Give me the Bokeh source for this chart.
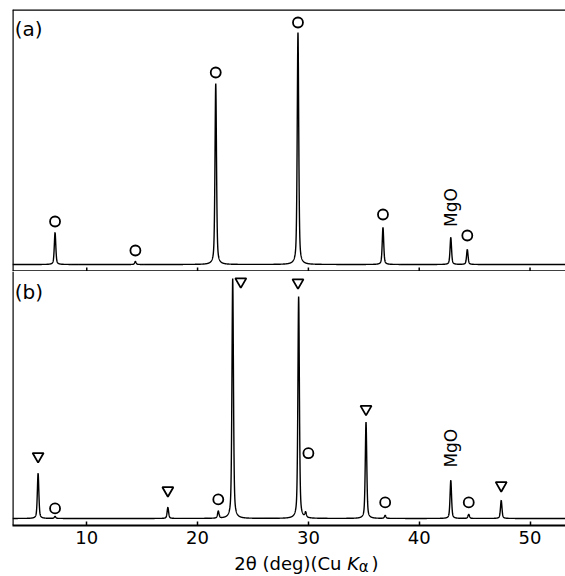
import numpy as np
from bokeh.plotting import figure
from bokeh.layouts import column
from bokeh.models import Range1d, Span, Label, FixedTicker
from bokeh.embed import file_html
from bokeh.resources import INLINE

# ---------------- data ----------------
x_min, x_max = 3.3, 53.2
tick_values = [10, 20, 30, 40, 50]

# panel (a): peak positions (deg 2theta) and heights (arb. units)
a_peak_pos = [7.14, 14.39, 21.64, 29.06, 36.73, 42.85, 44.34]
a_peak_int = [32, 3, 181, 232, 37, 27, 15]
a_circle_x = [7.14, 14.39, 21.64, 29.06, 36.73, 44.34]
a_circle_y = [43, 14, 192, 242, 50, 29]
a_mgo_x, a_mgo_y = 42.9, 57

# panel (b)
b_peak_pos = [5.61, 7.14, 17.32, 21.87, 23.17, 29.12, 29.75, 35.2, 36.93, 42.85, 44.47, 47.4]
b_peak_int = [45, 2, 11, 7, 239, 221, 5, 96, 3, 38, 4, 18]
b_tri_x = [5.61, 17.32, 23.9, 29.06, 35.2, 47.4]
b_tri_y = [62, 28, 236, 235, 109, 33]
b_circle_x = [7.14, 21.87, 30.0, 36.93, 44.47]
b_circle_y = [10, 19, 65, 16, 16]
b_mgo_x, b_mgo_y = 42.9, 70

a_range = (-7, 255)
b_range = (-7, 246)

FONT = "DejaVu Sans"
W = 565
LEFT = 12


def profile(x, pos, inten, hw=0.08):
    y = np.zeros_like(x)
    for p, h in zip(pos, inten):
        d = (x - p) / hw
        y += h * (0.5 / (1 + d * d) + 0.5 * np.exp(-np.log(2) * d * d))
    return y


xs = np.linspace(x_min, x_max, 6000)


def make_panel(height, yr, min_top, min_bottom):
    p = figure(width=W, height=height,
               x_range=Range1d(x_min, x_max), y_range=Range1d(*yr),
               output_backend="svg", toolbar_location=None,
               min_border_left=LEFT, min_border_right=0,
               min_border_top=min_top, min_border_bottom=min_bottom)
    p.xgrid.visible = False
    p.ygrid.visible = False
    p.outline_line_color = None
    p.background_fill_color = "white"
    p.border_fill_color = "white"
    return p


# ---------------- panel (a) ----------------
pa = make_panel(271, a_range, 9, 0)
pa.axis.visible = False
pa.add_layout(Span(location=x_min, dimension="height", line_color="black", line_width=2.4))
pa.add_layout(Span(location=a_range[1], dimension="width", line_color="black", line_width=2.4))
pa.add_layout(Span(location=a_range[0], dimension="width", line_color="black", line_width=2.4))
pa.segment(x0=tick_values, y0=[a_range[0]] * len(tick_values),
           x1=tick_values, y1=[a_range[0] + 4] * len(tick_values),
           line_color="black", line_width=1.5)
pa.line(xs, profile(xs, a_peak_pos, a_peak_int), line_color="black", line_width=1.4)
pa.scatter(a_circle_x, a_circle_y, marker="circle", size=10,
           fill_color="white", line_color="black", line_width=1.8)
pa.add_layout(Label(x=a_mgo_x, y=a_mgo_y, text="MgO", angle=90, angle_units="deg",
                    text_align="center", text_baseline="middle",
                    text_font=FONT, text_font_size="17px", text_color="black"))
pa.add_layout(Label(x=x_min + 0.2, y=236, text="(a)", text_align="left",
                    text_baseline="middle", text_font=FONT,
                    text_font_size="20px", text_color="black"))

# ---------------- panel (b) ----------------
pb = make_panel(281, b_range, 0, 27)
pb.yaxis.visible = False
ax = pb.xaxis[0]
ax.ticker = FixedTicker(ticks=tick_values, minor_ticks=[])
ax.major_tick_in = 4
ax.major_tick_out = 0
ax.minor_tick_in = 0
ax.minor_tick_out = 0
ax.axis_line_width = 1.8
ax.major_tick_line_width = 1.5
ax.axis_line_color = "black"
ax.major_tick_line_color = "black"
ax.major_label_text_font = FONT
ax.major_label_text_font_size = "18px"
ax.major_label_text_color = "black"
ax.major_label_standoff = 5
pb.add_layout(Span(location=x_min, dimension="height", line_color="black", line_width=2.4))
pb.line(xs, profile(xs, b_peak_pos, b_peak_int), line_color="black", line_width=1.4)
pb.scatter(b_tri_x, b_tri_y, marker="inverted_triangle", size=11,
           fill_color="white", line_color="black", line_width=1.8)
pb.scatter(b_circle_x, b_circle_y, marker="circle", size=10,
           fill_color="white", line_color="black", line_width=1.8)
pb.add_layout(Label(x=b_mgo_x, y=b_mgo_y, text="MgO", angle=90, angle_units="deg",
                    text_align="center", text_baseline="middle",
                    text_font=FONT, text_font_size="17px", text_color="black"))
pb.add_layout(Label(x=x_min + 0.2, y=226, text="(b)", text_align="left",
                    text_baseline="middle", text_font=FONT,
                    text_font_size="20px", text_color="black"))

# ---------------- x-axis title strip: 2θ (deg)(Cu Kα) ----------------
pt = make_panel(24, (0, 1), 0, 0)
pt.axis.visible = False
k_x = 33.5
pt.add_layout(Label(x=k_x, y=0.55, text="2θ (deg)(Cu ", text_align="right",
                    text_baseline="middle", text_font=FONT,
                    text_font_size="18px", text_color="black"))
pt.add_layout(Label(x=k_x, y=0.55, text="K", text_align="left",
                    text_baseline="middle", text_font=FONT, text_font_style="italic",
                    text_font_size="18px", text_color="black"))
pt.add_layout(Label(x=k_x + 1.05, y=0.4, text="α", text_align="left",
                    text_baseline="middle", text_font=FONT,
                    text_font_size="15px", text_color="black"))
pt.add_layout(Label(x=k_x + 2.2, y=0.55, text=")", text_align="left",
                    text_baseline="middle", text_font=FONT,
                    text_font_size="18px", text_color="black"))

layout = column(pa, pb, pt, spacing=0)
open("out.html", "w").write(file_html(layout, INLINE))
